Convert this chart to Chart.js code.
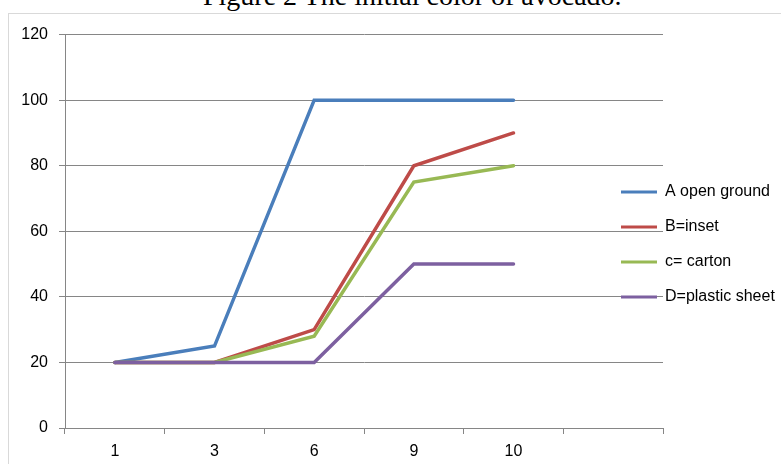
<!DOCTYPE html>
<html>
<head>
<meta charset="utf-8">
<script src="https://cdn.jsdelivr.net/npm/chart.js@4/dist/chart.umd.min.js"></script>
<style>
  html, body { margin: 0; padding: 0; background: #fff; overflow: hidden; width: 781px; height: 464px; }
  #caption { position: absolute; left: 203px; top: -18px; font: 28px "Liberation Serif", "Times New Roman", serif; line-height: 28px; white-space: nowrap; color: #000; }
  #frame { position: absolute; left: 8px; top: 13px; width: 772px; height: 470px; border: 1px solid #d9d9d9; }
</style>
</head>
<body>
<div id="caption">Figure 2 The initial color of avocado.</div>
<div id="frame"><canvas id="avocadoChart" width="772" height="461"></canvas></div>
<script>
const days = ['1', '3', '6', '9', '10', ''];
const openGround = [20, 25, 100, 100, 100];
const inset = [20, 20, 30, 80, 90];
const carton = [20, 20, 28, 75, 80];
const plasticSheet = [20, 20, 20, 50, 50];
const yTicks = { min: 0, max: 120, step: 20 };

const gridGray = '#868686';
const labelFont = { family: '"Liberation Sans", Arial, sans-serif', size: 16 };

function series(label, data, color, order) {
  return {
    label: label,
    data: data,
    borderColor: color,
    backgroundColor: color,
    borderWidth: 3.5,
    borderCapStyle: 'round',
    pointRadius: 0,
    tension: 0,
    fill: false,
    order: order
  };
}

// legend sits partly over the plot like in the spreadsheet original
const legendShift = {
  id: 'legendShift',
  afterLayout(chart) {
    const lg = chart.legend;
    lg.left = 593;
    lg.right = 772;
    lg.top = 0;
    lg.bottom = 461;
  }
};

const ctx = document.getElementById('avocadoChart').getContext('2d');
new Chart(ctx, {
  type: 'line',
  data: {
    labels: days,
    datasets: [
      series('A open ground', openGround, '#4a7ebb', 3),
      series('B=inset', inset, '#be4b48', 2),
      series('c= carton', carton, '#98b954', 1),
      series('D=plastic sheet', plasticSheet, '#7d60a0', 0)
    ]
  },
  options: {
    responsive: false,
    animation: false,
    layout: { padding: { top: 19, left: 0, right: 0, bottom: 0 } },
    plugins: {
      title: { display: false },
      tooltip: { enabled: false },
      legend: {
        position: 'right',
        maxWidth: 118,
        labels: {
          color: '#000',
          font: labelFont,
          boxWidth: 36,
          boxHeight: 3,
          padding: 19,
          sort: (a, b) => a.datasetIndex - b.datasetIndex,
          generateLabels(chart) {
            return Chart.defaults.plugins.legend.labels.generateLabels(chart)
              .map(item => Object.assign(item, { lineWidth: 0 }));
          }
        }
      }
    },
    scales: {
      x: {
        offset: true,
        afterFit(scale) { scale.height = 47; },
        grid: {
          offset: true,
          drawOnChartArea: false,
          drawTicks: true,
          tickLength: 6,
          color: gridGray
        },
        border: { display: true, color: gridGray },
        ticks: { color: '#000', font: labelFont, padding: 8, maxRotation: 0, autoSkip: false }
      },
      y: {
        min: yTicks.min,
        max: yTicks.max,
        afterFit(scale) { scale.width = 56; },
        grid: { color: gridGray, tickLength: 6, drawTicks: true },
        border: { display: true, color: gridGray },
        ticks: { stepSize: yTicks.step, color: '#000', font: labelFont, padding: 11 }
      }
    }
  },
  plugins: [legendShift]
});
</script>
</body>
</html>
